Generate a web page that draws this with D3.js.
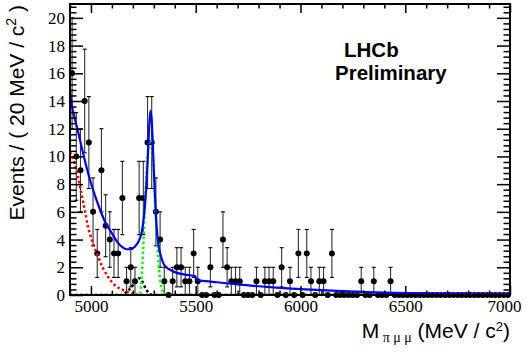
<!DOCTYPE html>
<html><head><meta charset="utf-8">
<script src="https://cdn.jsdelivr.net/npm/d3@7"></script>
<style>body{margin:0;background:#fff}svg{display:block}</style>
</head><body><svg id="c" width="527" height="352"></svg>
<script>
// ---- data ----
const binLow = 4900, binHigh = 7000, binWidth = 20;
const counts = [
  16,10,9,14,11,6,3,9,5,4,
  3,3,7,1,2,1,7,7,11,11,
  6,4,1,0,1,2,2,1,1,3,
  1,0,0,2,0,0,4,2,1,1,
  1,0,0,0,1,0,1,1,1,0,
  2,0,1,0,3,0,3,1,0,1,
  1,0,3,0,0,0,0,0,0,1,
  0,0,1,0,0,0,1,0,0,0,
  0,0,0,0,0,0,0,0,0,0,
  0,0,0,0,0,0,0,0,0,0,
  0,0,0,0,0];
const xMajorTicks = [5000,5500,6000,6500,7000];
const yMajorTicks = [0,2,4,6,8,10,12,14,16,18,20];

// total fit (blue)
const totalMass = [4900,4910,4925,4940,4955,4970,4990,5010,5030,5050,5070,5090,5110,5130,5150,5170,5190,5210,5225,5240,5250,5260,5270,5278,5284,5290,5298,5306,5314,5322,5332,5345,5360,5380,5400,5430,5460,5499,5501,5550,5600,5700,5800,5900,6000,6100,6200,6300,6400,6500,6600,6700,6800,6900,7000];
const totalVal  = [14.8,13.6,12.6,11.7,10.7,9.76,8.6,7.6,6.7,5.9,5.2,4.7,4.2,3.74,3.45,3.3,3.3,3.5,3.8,4.4,5.3,6.9,9.5,12.2,13.3,12.6,9.8,7.0,4.8,3.6,2.9,2.3,2.0,1.8,1.65,1.52,1.45,1.35,1.08,1.0,0.92,0.76,0.63,0.52,0.43,0.35,0.28,0.22,0.17,0.13,0.11,0.09,0.08,0.07,0.06];
// partially reconstructed background (red dotted)
const partMass = [4900,4906,4922,4938,4954,4970,4986,5010,5034,5058,5081,5113,5153,5193,5225,5260,7000];
const partVal  = [10.3,10.1,9.5,8.55,7.35,6.15,4.94,3.74,2.77,1.93,1.32,0.72,0.36,0.12,0.03,0,0];
// signal (green dotted)
const sigMass = [4900,5220,5233,5240,5248,5259,5272,5284,5296,5307,5320,5330,5340,5352,5365,7000];
const sigVal  = [0,0,0.1,0.8,3.0,7.1,10.3,11.2,10.0,6.4,2.8,1.1,0.35,0.05,0,0];
// peaking background (black dotted)
const peakMass = [4900,5140,5160,5180,5200,5215,5230,5242,5255,5268,5280,5295,7000];
const peakVal  = [0,0,0.1,0.35,0.7,1.0,1.2,1.05,0.65,0.3,0.08,0,0];

// ---- drawing ----
const svg = d3.select("#c");
const L = 70, R = 510, T = 4, B = 295;
const x = d3.scaleLinear().domain([binLow, binHigh]).range([L, R]);
const y = d3.scaleLinear().domain([0, 21]).range([B, T]);

const centers = d3.range(counts.length).map(i => binLow + binWidth * (i + 0.5));
const pts = centers.map((m, i) => ({m, v: counts[i]}));

// error bars
const eb = svg.append("g").attr("stroke", "#333").attr("stroke-width", 1.1);
pts.filter(d => d.v > 0).forEach(d => {
  const e = Math.sqrt(d.v);
  const cx = x(d.m);
  eb.append("line").attr("x1", cx).attr("x2", cx).attr("y1", y(d.v - e)).attr("y2", y(d.v + e));
  [d.v - e, d.v + e].forEach(v => {
    eb.append("line").attr("x1", cx - 2).attr("x2", cx + 2).attr("y1", y(v)).attr("y2", y(v)).attr("stroke", "#000");
  });
});
// markers
svg.append("g").selectAll("circle").data(pts).join("circle")
  .attr("cx", d => x(d.m)).attr("cy", d => y(d.v)).attr("r", 3).attr("fill", "#000");

// curves
svg.append("clipPath").attr("id", "clp").append("rect")
  .attr("x", L).attr("y", T).attr("width", R - L).attr("height", B - T);
const line = d3.line().x(d => x(d[0])).y(d => y(d[1])).curve(d3.curveMonotoneX);
const cg = svg.append("g").attr("clip-path", "url(#clp)").attr("fill", "none");
cg.append("path").datum(d3.zip(partMass, partVal)).attr("d", line)
  .attr("stroke", "#ff0000").attr("stroke-width", 2.5).attr("stroke-dasharray", "2.5,2.5");
cg.append("path").datum(d3.zip(peakMass, peakVal)).attr("d", line)
  .attr("stroke", "#000").attr("stroke-width", 2.5).attr("stroke-dasharray", "2.5,2.5");
cg.append("path").datum(d3.zip(sigMass, sigVal)).attr("d", line)
  .attr("stroke", "#00ff00").attr("stroke-width", 2.5).attr("stroke-dasharray", "2.5,2.5");
cg.append("path").datum(d3.zip(totalMass, totalVal)).attr("d", line)
  .attr("stroke", "#0000ff").attr("stroke-width", 2.2);

// axes
const xMinor = d3.range(binLow, binHigh + 1, 100).filter(v => !xMajorTicks.includes(v));
const yMinor = d3.range(0, 21.01, 0.4).map(v => +v.toFixed(1)).filter(v => !yMajorTicks.includes(v));
const serif = "'Liberation Serif','Times New Roman',serif";

function styleAxis(g) {
  g.select(".domain").remove();
  g.selectAll(".tick line").attr("stroke", "#000").attr("stroke-width", 1.5);
  g.selectAll("text").attr("font-family", serif).attr("font-size", 17).attr("fill", "#000");
}
svg.append("g").attr("transform", `translate(0,${B})`)
  .call(d3.axisBottom(x).tickValues(xMajorTicks).tickSize(-9).tickPadding(5).tickFormat(d3.format("d")))
  .call(styleAxis)
  .call(g => g.selectAll(".tick text").filter(d => d === 7000).attr("dx", -6));
svg.append("g").attr("transform", `translate(0,${B})`)
  .call(d3.axisBottom(x).tickValues(xMinor).tickSize(-4.5).tickFormat(""))
  .call(styleAxis);
svg.append("g").attr("transform", `translate(0,${T})`)
  .call(d3.axisTop(x).tickValues(xMajorTicks).tickSize(-9).tickFormat(""))
  .call(styleAxis);
svg.append("g").attr("transform", `translate(0,${T})`)
  .call(d3.axisTop(x).tickValues(xMinor).tickSize(-4.5).tickFormat(""))
  .call(styleAxis);
svg.append("g").attr("transform", `translate(${L},0)`)
  .call(d3.axisLeft(y).tickValues(yMajorTicks).tickSize(-13).tickPadding(5).tickFormat(d3.format("d")))
  .call(styleAxis);
svg.append("g").attr("transform", `translate(${L},0)`)
  .call(d3.axisLeft(y).tickValues(yMinor).tickSize(-6.5).tickFormat(""))
  .call(styleAxis);
svg.append("g").attr("transform", `translate(${R},0)`)
  .call(d3.axisRight(y).tickValues(yMajorTicks).tickSize(-13).tickFormat(""))
  .call(styleAxis);
svg.append("g").attr("transform", `translate(${R},0)`)
  .call(d3.axisRight(y).tickValues(yMinor).tickSize(-6.5).tickFormat(""))
  .call(styleAxis);

// frame
svg.append("rect").attr("x", L).attr("y", T).attr("width", R - L).attr("height", B - T)
  .attr("fill", "none").attr("stroke", "#000").attr("stroke-width", 2);

// titles
const sans = "'Liberation Sans',Arial,Helvetica,sans-serif";
const yt = svg.append("text").attr("transform", "translate(24,5) rotate(-90)")
  .attr("text-anchor", "end").attr("font-family", sans).attr("font-size", 21).attr("fill", "#000");
yt.append("tspan").text("Events / ( 20 MeV / c");
yt.append("tspan").attr("font-size", 14).attr("dy", -8).text("2");
yt.append("tspan").attr("dy", 8).text(" )");

const xt = svg.append("text").attr("x", 510).attr("y", 338)
  .attr("text-anchor", "end").attr("font-family", sans).attr("font-size", 21).attr("fill", "#000");
xt.append("tspan").text("M");
xt.append("tspan").attr("font-family", serif).attr("font-size", 14).attr("dy", 4).text(" π μ μ");
xt.append("tspan").attr("dy", -4).text(" (MeV / c");
xt.append("tspan").attr("font-size", 13).attr("dy", -7).text("2");
xt.append("tspan").attr("dy", 7).text(")");

svg.append("text").attr("x", 344).attr("y", 57).attr("font-family", sans).attr("font-weight", "bold")
  .attr("font-size", 20.5).text("LHCb");
svg.append("text").attr("x", 335).attr("y", 80).attr("font-family", sans).attr("font-weight", "bold")
  .attr("font-size", 20.5).text("Preliminary");
</script></body></html>
